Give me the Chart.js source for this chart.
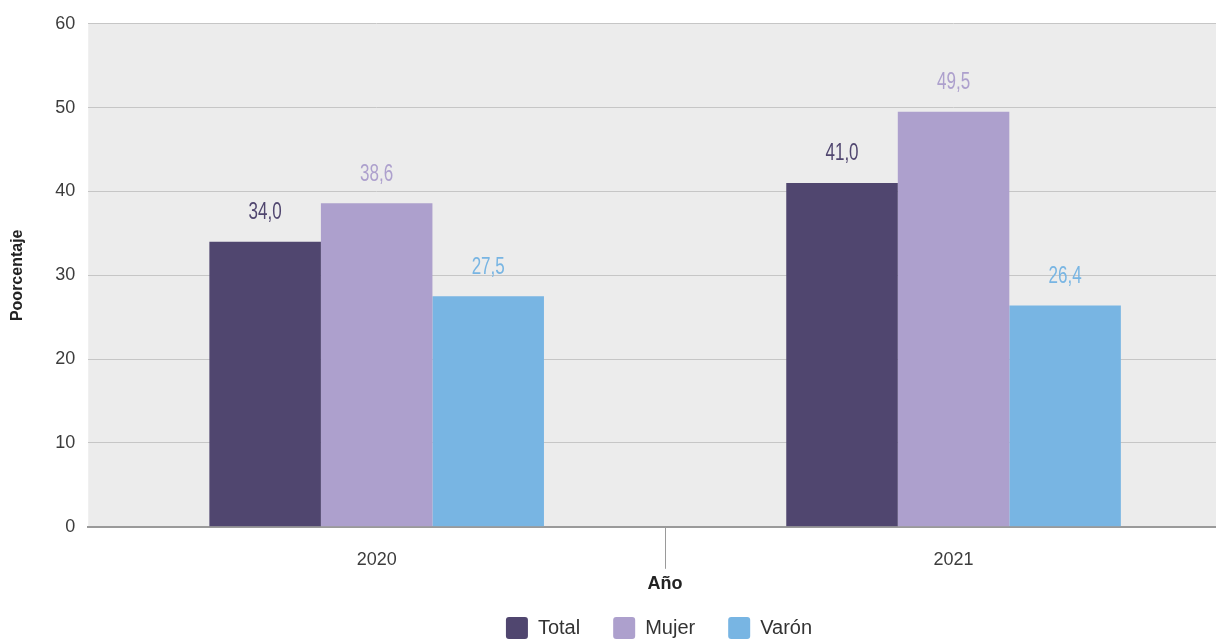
<!DOCTYPE html>
<html>
<head>
<meta charset="utf-8">
<script src="https://cdn.jsdelivr.net/npm/chart.js@4.4.1/dist/chart.umd.min.js"></script>
<style>
  html, body { margin: 0; padding: 0; background: #ffffff; overflow: hidden; }
  #wrap { width: 1250px; height: 639px; position: relative; }
</style>
</head>
<body>
<div id="wrap"><canvas id="c"></canvas></div>
<script>
const categories = ['2020', '2021'];
const seriesNames = ['Total', 'Mujer', 'Varón'];
const totalValues = [34.0, 41.0];
const mujerValues = [38.6, 49.5];
const varonValues = [27.5, 26.4];
const yTicks = [0, 10, 20, 30, 40, 50, 60];

const colors = ['#50466f', '#ada0cd', '#78b5e3'];

const bgPlugin = {
  id: 'plotBg',
  beforeDraw(chart) {
    const a = chart.chartArea, ctx = chart.ctx;
    ctx.save();
    ctx.fillStyle = '#ececec';
    ctx.fillRect(a.left, a.top, a.right - a.left, a.bottom - a.top);
    ctx.restore();
  }
};

const legendShift = {
  id: 'legendShift',
  afterLayout(chart) {
    const lg = chart.legend;
    if (!lg) return;
    lg.left += 38; lg.right += 38;
    lg.top = 578 + (39 - lg.options.labels.padding); lg.bottom = 639;
  }
};

const valueLabels = {
  id: 'valueLabels',
  afterDatasetsDraw(chart) {
    const ctx = chart.ctx;
    chart.data.datasets.forEach((ds, di) => {
      const meta = chart.getDatasetMeta(di);
      meta.data.forEach((bar, i) => {
        ctx.save();
        ctx.font = "23px 'Liberation Sans', Arial, sans-serif";
        ctx.textAlign = 'center';
        ctx.textBaseline = 'middle';
        ctx.fillStyle = ds.backgroundColor;
        ctx.translate(bar.x, bar.y - 29);
        ctx.scale(0.74, 1);
        ctx.fillText(ds.data[i].toFixed(1).replace('.', ','), 0, 0);
        ctx.restore();
      });
    });
  }
};

new Chart(document.getElementById('c'), {
  type: 'bar',
  data: {
    labels: categories,
    datasets: [
      { label: seriesNames[0], data: totalValues, backgroundColor: colors[0] },
      { label: seriesNames[1], data: mujerValues, backgroundColor: colors[1] },
      { label: seriesNames[2], data: varonValues, backgroundColor: colors[2] }
    ]
  },
  options: {
    responsive: true,
    maintainAspectRatio: false,
    animation: false,
    datasets: { bar: { categoryPercentage: 0.58, barPercentage: 1.0, borderWidth: 0 } },
    layout: { padding: { top: 21, left: 0, right: 8, bottom: 0 } },
    plugins: {
      tooltip: { enabled: false },
      legend: {
        position: 'bottom',
        maxHeight: 34,
        labels: {
          boxWidth: 22, boxHeight: 22, padding: 33,
          color: '#333333',
          font: { family: "'Liberation Sans', Arial, sans-serif", size: 20 },
          generateLabels(chart) {
            return chart.data.datasets.map((ds, i) => ({
              text: ds.label, fillStyle: ds.backgroundColor, strokeStyle: ds.backgroundColor,
              lineWidth: 0, borderRadius: 3, datasetIndex: i, hidden: false, fontColor: '#333333'
            }));
          }
        }
      }
    },
    scales: {
      x: {
        grid: {
          offset: true, drawOnChartArea: false, drawTicks: true, tickLength: 42,
          color: (ctx) => ctx.index === 1 ? '#9a9a9a' : 'rgba(0,0,0,0)', lineWidth: 1
        },
        border: { display: true, color: '#9a9a9a', width: 2 },
        ticks: { padding: -20, color: '#3c3c3c', font: { family: "'Liberation Sans', Arial, sans-serif", size: 18 } },
        title: {
          display: true, text: 'Año', color: '#222222',
          font: { family: "'Liberation Sans', Arial, sans-serif", size: 18, weight: 'bold' },
          padding: { top: 23, bottom: 10 }
        }
      },
      y: {
        min: 0, max: 60,
        afterBuildTicks(scale) { scale.ticks = yTicks.map(v => ({ value: v })); },
        grid: { color: '#c6c6c6', lineWidth: 1, drawTicks: false },
        border: { display: false },
        ticks: { padding: 13, color: '#3c3c3c', font: { family: "'Liberation Sans', Arial, sans-serif", size: 18 } },
        title: {
          display: true, text: 'Poorcentaje', color: '#222222',
          font: { family: "'Liberation Sans', Arial, sans-serif", size: 16, weight: 'bold' },
          padding: { top: 8, bottom: 15 }
        }
      }
    }
  },
  plugins: [bgPlugin, legendShift, valueLabels]
});
</script>
</body>
</html>
